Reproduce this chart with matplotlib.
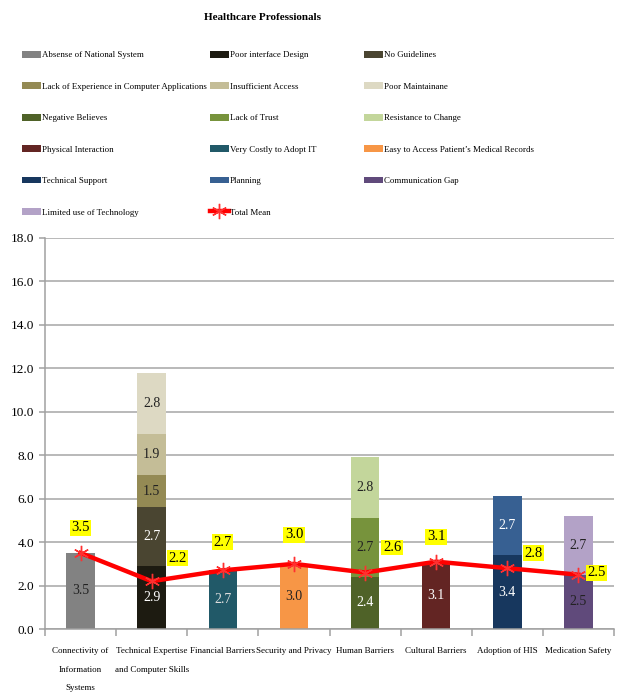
import matplotlib
matplotlib.use('Agg')
import numpy as np
import matplotlib.pyplot as plt

plt.rcParams['font.family'] = ['Liberation Serif', 'DejaVu Serif']

''' Data '''
categories = ['Connectivity of\nInformation\nSystems', 'Technical Expertise\nand Computer Skills',
              'Financial Barriers', 'Security and Privacy', 'Human Barriers',
              'Cultural Barriers', 'Adoption of HIS', 'Medication Safety']

series_names = ['Absense of National System', 'Poor interface Design', 'No Guidelines',
                'Lack of Experience in Computer Applications', 'Insufficient Access', 'Poor Maintainane',
                'Negative Believes', 'Lack of Trust', 'Resistance to Change',
                'Physical Interaction', 'Very Costly to Adopt IT', "Easy to Access Patient\u2019s Medical Records",
                'Technical Support', 'Planning', 'Communication Gap',
                'Limited use of Technology']
#Which bar each series is stacked on
series_cat = [0, 1, 1, 1, 1, 1, 4, 4, 4, 5, 2, 3, 6, 6, 7, 7]
series_vals = [3.5, 2.9, 2.7, 1.5, 1.9, 2.8, 2.4, 2.7, 2.8, 3.1, 2.7, 3.0, 3.4, 2.7, 2.5, 2.7]

total_mean = [3.5, 2.2, 2.7, 3.0, 2.6, 3.1, 2.8, 2.5]

''' Style '''
series_colors = ['#828282', '#1d1b11', '#4a4531', '#948a54', '#c4bd97', '#ddd9c3',
                 '#4f6228', '#77933c', '#c3d69b', '#632523', '#215968', '#f79646',
                 '#17375e', '#376092', '#604a7b', '#b3a2c7']
text_colors = ['#222222', 'white', 'white', '#222222', '#222222', '#222222',
               'white', '#222222', '#222222', 'white', '#dddddd', '#222222',
               'white', 'white', '#222222', '#222222']
#Offsets of the yellow mean labels, in pixels
mean_lab_off = [(0, 25), (26, 23), (0, 28), (0, 29), (27, 25), (0, 25), (26, 15), (18, 2)]

fig = plt.figure(figsize=(6.24, 6.98), dpi=100)
ax = fig.add_axes([45/624, 1-629/698, 569/624, 391/698])

x = np.arange(len(categories))
bottoms = np.zeros(len(categories))
handles = []
for name, c, v, col, tcol in zip(series_names, series_cat, series_vals, series_colors, text_colors):
    b = ax.bar(x[c], v, width=0.4, bottom=bottoms[c], color=col, label=name, zorder=2)
    ax.text(x[c], bottoms[c] + v/2, '%.1f' % v, ha='center', va='center',
            fontsize=10, color=tcol, zorder=3)
    bottoms[c] += v
    handles.append(b)

line, = ax.plot(x, total_mean, color='#ff0000', lw=3.2, marker=(6, 2, 0), markersize=11,
                markeredgecolor='#ff3030', markeredgewidth=1, zorder=4, label='Total Mean')
handles.append(line)
for xi, m, off in zip(x, total_mean, mean_lab_off):
    ax.annotate('%.1f' % m, (xi, m), xytext=(off[0]*0.72, off[1]*0.72), textcoords='offset points',
                ha='center', va='center', fontsize=10.5, zorder=5,
                bbox=dict(boxstyle='square,pad=0.1', fc='#ffff00', ec='none'))

ax.set_xlim(-0.5, 7.5)
ax.set_ylim(0, 18)
ax.set_yticks(np.arange(0, 19, 2))
ax.set_yticklabels(['%.1f' % t for t in np.arange(0, 19, 2)], fontsize=9.5)
ax.set_xticks(x)
ax.set_xticklabels(categories, fontsize=6.5)
for t in ax.get_xticklabels():
    t.set_linespacing(2.75)
ax.set_xticks(np.arange(-0.5, 8, 1), minor=True)
ax.tick_params(axis='x', which='major', length=0, pad=13)
ax.tick_params(axis='x', which='minor', length=5, color='#a0a0a0', width=1.1)
ax.tick_params(axis='y', length=4, pad=4, color='#a0a0a0', width=1.1)
ax.grid(axis='y', color='#a6a6a6', lw=1.1, zorder=0)
for s in ['top', 'right']:
    ax.spines[s].set_visible(False)
for s in ['left', 'bottom']:
    ax.spines[s].set_color('#a0a0a0')
    ax.spines[s].set_linewidth(1.1)

#Legend in three columns, each placed on its own
col_x = [22, 210, 364]
labels = series_names + ['Total Mean']
for k in range(3):
    leg = fig.legend(handles[k::3], labels[k::3], loc='upper left',
                     bbox_to_anchor=(col_x[k]/624, 1-51/698), frameon=False,
                     fontsize=6.4, handlelength=2.1, handleheight=0.8, handletextpad=0.1,
                     labelspacing=2.58, borderpad=0, borderaxespad=0)

fig.text(263/624, 1-18/698, 'Healthcare Professionals', ha='center', va='center',
         fontsize=8, fontweight='bold')

fig.savefig('out.png')
